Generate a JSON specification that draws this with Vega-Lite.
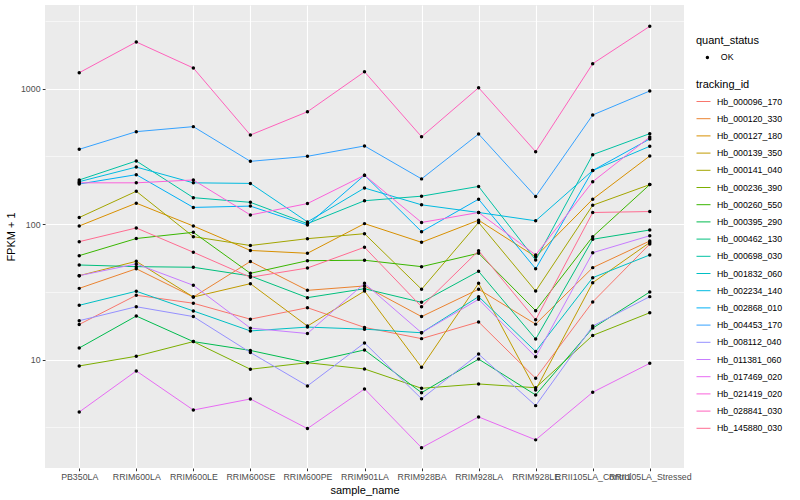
{
"$schema": "https://vega.github.io/schema/vega-lite/v6.json",
"width": 639, "height": 463,
"autosize": {"type": "none"},
"padding": {"left": 45, "top": 5, "right": 116, "bottom": 32},
"background": "white",
"config": {"view": {"fill": "#EBEBEB", "stroke": null}, "font": "Liberation Sans"},
"datasets": {"fpkm": [
{"tracking_id":"Hb_000096_170","sample_name":"PB350LA","fpkm":18.2,"quant_status":"OK"},
{"tracking_id":"Hb_000096_170","sample_name":"RRIM600LA","fpkm":29.9,"quant_status":"OK"},
{"tracking_id":"Hb_000096_170","sample_name":"RRIM600LE","fpkm":26.1,"quant_status":"OK"},
{"tracking_id":"Hb_000096_170","sample_name":"RRIM600SE","fpkm":19.9,"quant_status":"OK"},
{"tracking_id":"Hb_000096_170","sample_name":"RRIM600PE","fpkm":24.2,"quant_status":"OK"},
{"tracking_id":"Hb_000096_170","sample_name":"RRIM901LA","fpkm":17.3,"quant_status":"OK"},
{"tracking_id":"Hb_000096_170","sample_name":"RRIM928BA","fpkm":14.3,"quant_status":"OK"},
{"tracking_id":"Hb_000096_170","sample_name":"RRIM928LA","fpkm":19.0,"quant_status":"OK"},
{"tracking_id":"Hb_000096_170","sample_name":"RRIM928LE","fpkm":7.29,"quant_status":"OK"},
{"tracking_id":"Hb_000096_170","sample_name":"RRII105LA_Control","fpkm":26.7,"quant_status":"OK"},
{"tracking_id":"Hb_000096_170","sample_name":"RRII105LA_Stressed","fpkm":71.4,"quant_status":"OK"},
{"tracking_id":"Hb_000120_330","sample_name":"PB350LA","fpkm":33.6,"quant_status":"OK"},
{"tracking_id":"Hb_000120_330","sample_name":"RRIM600LA","fpkm":46.9,"quant_status":"OK"},
{"tracking_id":"Hb_000120_330","sample_name":"RRIM600LE","fpkm":29.0,"quant_status":"OK"},
{"tracking_id":"Hb_000120_330","sample_name":"RRIM600SE","fpkm":53.1,"quant_status":"OK"},
{"tracking_id":"Hb_000120_330","sample_name":"RRIM600PE","fpkm":32.5,"quant_status":"OK"},
{"tracking_id":"Hb_000120_330","sample_name":"RRIM901LA","fpkm":35.0,"quant_status":"OK"},
{"tracking_id":"Hb_000120_330","sample_name":"RRIM928BA","fpkm":20.8,"quant_status":"OK"},
{"tracking_id":"Hb_000120_330","sample_name":"RRIM928LA","fpkm":33.1,"quant_status":"OK"},
{"tracking_id":"Hb_000120_330","sample_name":"RRIM928LE","fpkm":18.3,"quant_status":"OK"},
{"tracking_id":"Hb_000120_330","sample_name":"RRII105LA_Control","fpkm":47.8,"quant_status":"OK"},
{"tracking_id":"Hb_000120_330","sample_name":"RRII105LA_Stressed","fpkm":75.2,"quant_status":"OK"},
{"tracking_id":"Hb_000127_180","sample_name":"PB350LA","fpkm":97.0,"quant_status":"OK"},
{"tracking_id":"Hb_000127_180","sample_name":"RRIM600LA","fpkm":143,"quant_status":"OK"},
{"tracking_id":"Hb_000127_180","sample_name":"RRIM600LE","fpkm":97.0,"quant_status":"OK"},
{"tracking_id":"Hb_000127_180","sample_name":"RRIM600SE","fpkm":64.0,"quant_status":"OK"},
{"tracking_id":"Hb_000127_180","sample_name":"RRIM600PE","fpkm":61.0,"quant_status":"OK"},
{"tracking_id":"Hb_000127_180","sample_name":"RRIM901LA","fpkm":101,"quant_status":"OK"},
{"tracking_id":"Hb_000127_180","sample_name":"RRIM928BA","fpkm":73.5,"quant_status":"OK"},
{"tracking_id":"Hb_000127_180","sample_name":"RRIM928LA","fpkm":107,"quant_status":"OK"},
{"tracking_id":"Hb_000127_180","sample_name":"RRIM928LE","fpkm":57.5,"quant_status":"OK"},
{"tracking_id":"Hb_000127_180","sample_name":"RRII105LA_Control","fpkm":153,"quant_status":"OK"},
{"tracking_id":"Hb_000127_180","sample_name":"RRII105LA_Stressed","fpkm":319,"quant_status":"OK"},
{"tracking_id":"Hb_000139_350","sample_name":"PB350LA","fpkm":41.7,"quant_status":"OK"},
{"tracking_id":"Hb_000139_350","sample_name":"RRIM600LA","fpkm":53.2,"quant_status":"OK"},
{"tracking_id":"Hb_000139_350","sample_name":"RRIM600LE","fpkm":29.0,"quant_status":"OK"},
{"tracking_id":"Hb_000139_350","sample_name":"RRIM600SE","fpkm":36.4,"quant_status":"OK"},
{"tracking_id":"Hb_000139_350","sample_name":"RRIM600PE","fpkm":17.7,"quant_status":"OK"},
{"tracking_id":"Hb_000139_350","sample_name":"RRIM901LA","fpkm":32.1,"quant_status":"OK"},
{"tracking_id":"Hb_000139_350","sample_name":"RRIM928BA","fpkm":8.79,"quant_status":"OK"},
{"tracking_id":"Hb_000139_350","sample_name":"RRIM928LA","fpkm":36.6,"quant_status":"OK"},
{"tracking_id":"Hb_000139_350","sample_name":"RRIM928LE","fpkm":5.98,"quant_status":"OK"},
{"tracking_id":"Hb_000139_350","sample_name":"RRII105LA_Control","fpkm":37.0,"quant_status":"OK"},
{"tracking_id":"Hb_000139_350","sample_name":"RRII105LA_Stressed","fpkm":73.3,"quant_status":"OK"},
{"tracking_id":"Hb_000141_040","sample_name":"PB350LA","fpkm":112,"quant_status":"OK"},
{"tracking_id":"Hb_000141_040","sample_name":"RRIM600LA","fpkm":175,"quant_status":"OK"},
{"tracking_id":"Hb_000141_040","sample_name":"RRIM600LE","fpkm":80.9,"quant_status":"OK"},
{"tracking_id":"Hb_000141_040","sample_name":"RRIM600SE","fpkm":69.6,"quant_status":"OK"},
{"tracking_id":"Hb_000141_040","sample_name":"RRIM600PE","fpkm":78.2,"quant_status":"OK"},
{"tracking_id":"Hb_000141_040","sample_name":"RRIM901LA","fpkm":85.1,"quant_status":"OK"},
{"tracking_id":"Hb_000141_040","sample_name":"RRIM928BA","fpkm":33.1,"quant_status":"OK"},
{"tracking_id":"Hb_000141_040","sample_name":"RRIM928LA","fpkm":103,"quant_status":"OK"},
{"tracking_id":"Hb_000141_040","sample_name":"RRIM928LE","fpkm":32.1,"quant_status":"OK"},
{"tracking_id":"Hb_000141_040","sample_name":"RRII105LA_Control","fpkm":138,"quant_status":"OK"},
{"tracking_id":"Hb_000141_040","sample_name":"RRII105LA_Stressed","fpkm":196,"quant_status":"OK"},
{"tracking_id":"Hb_000236_390","sample_name":"PB350LA","fpkm":8.99,"quant_status":"OK"},
{"tracking_id":"Hb_000236_390","sample_name":"RRIM600LA","fpkm":10.6,"quant_status":"OK"},
{"tracking_id":"Hb_000236_390","sample_name":"RRIM600LE","fpkm":13.6,"quant_status":"OK"},
{"tracking_id":"Hb_000236_390","sample_name":"RRIM600SE","fpkm":8.50,"quant_status":"OK"},
{"tracking_id":"Hb_000236_390","sample_name":"RRIM600PE","fpkm":9.50,"quant_status":"OK"},
{"tracking_id":"Hb_000236_390","sample_name":"RRIM901LA","fpkm":8.54,"quant_status":"OK"},
{"tracking_id":"Hb_000236_390","sample_name":"RRIM928BA","fpkm":6.15,"quant_status":"OK"},
{"tracking_id":"Hb_000236_390","sample_name":"RRIM928LA","fpkm":6.62,"quant_status":"OK"},
{"tracking_id":"Hb_000236_390","sample_name":"RRIM928LE","fpkm":6.21,"quant_status":"OK"},
{"tracking_id":"Hb_000236_390","sample_name":"RRII105LA_Control","fpkm":15.1,"quant_status":"OK"},
{"tracking_id":"Hb_000236_390","sample_name":"RRII105LA_Stressed","fpkm":22.2,"quant_status":"OK"},
{"tracking_id":"Hb_000260_550","sample_name":"PB350LA","fpkm":58.6,"quant_status":"OK"},
{"tracking_id":"Hb_000260_550","sample_name":"RRIM600LA","fpkm":78.4,"quant_status":"OK"},
{"tracking_id":"Hb_000260_550","sample_name":"RRIM600LE","fpkm":87.1,"quant_status":"OK"},
{"tracking_id":"Hb_000260_550","sample_name":"RRIM600SE","fpkm":43.4,"quant_status":"OK"},
{"tracking_id":"Hb_000260_550","sample_name":"RRIM600PE","fpkm":53.8,"quant_status":"OK"},
{"tracking_id":"Hb_000260_550","sample_name":"RRIM901LA","fpkm":54.2,"quant_status":"OK"},
{"tracking_id":"Hb_000260_550","sample_name":"RRIM928BA","fpkm":48.6,"quant_status":"OK"},
{"tracking_id":"Hb_000260_550","sample_name":"RRIM928LA","fpkm":61.0,"quant_status":"OK"},
{"tracking_id":"Hb_000260_550","sample_name":"RRIM928LE","fpkm":23.0,"quant_status":"OK"},
{"tracking_id":"Hb_000260_550","sample_name":"RRII105LA_Control","fpkm":80.9,"quant_status":"OK"},
{"tracking_id":"Hb_000260_550","sample_name":"RRII105LA_Stressed","fpkm":196,"quant_status":"OK"},
{"tracking_id":"Hb_000395_290","sample_name":"PB350LA","fpkm":12.2,"quant_status":"OK"},
{"tracking_id":"Hb_000395_290","sample_name":"RRIM600LA","fpkm":21.0,"quant_status":"OK"},
{"tracking_id":"Hb_000395_290","sample_name":"RRIM600LE","fpkm":13.6,"quant_status":"OK"},
{"tracking_id":"Hb_000395_290","sample_name":"RRIM600SE","fpkm":11.7,"quant_status":"OK"},
{"tracking_id":"Hb_000395_290","sample_name":"RRIM600PE","fpkm":9.50,"quant_status":"OK"},
{"tracking_id":"Hb_000395_290","sample_name":"RRIM901LA","fpkm":11.8,"quant_status":"OK"},
{"tracking_id":"Hb_000395_290","sample_name":"RRIM928BA","fpkm":5.71,"quant_status":"OK"},
{"tracking_id":"Hb_000395_290","sample_name":"RRIM928LA","fpkm":10.1,"quant_status":"OK"},
{"tracking_id":"Hb_000395_290","sample_name":"RRIM928LE","fpkm":5.49,"quant_status":"OK"},
{"tracking_id":"Hb_000395_290","sample_name":"RRII105LA_Control","fpkm":17.1,"quant_status":"OK"},
{"tracking_id":"Hb_000395_290","sample_name":"RRII105LA_Stressed","fpkm":31.6,"quant_status":"OK"},
{"tracking_id":"Hb_000462_130","sample_name":"PB350LA","fpkm":50.0,"quant_status":"OK"},
{"tracking_id":"Hb_000462_130","sample_name":"RRIM600LA","fpkm":48.6,"quant_status":"OK"},
{"tracking_id":"Hb_000462_130","sample_name":"RRIM600LE","fpkm":48.1,"quant_status":"OK"},
{"tracking_id":"Hb_000462_130","sample_name":"RRIM600SE","fpkm":41.5,"quant_status":"OK"},
{"tracking_id":"Hb_000462_130","sample_name":"RRIM600PE","fpkm":28.7,"quant_status":"OK"},
{"tracking_id":"Hb_000462_130","sample_name":"RRIM901LA","fpkm":33.4,"quant_status":"OK"},
{"tracking_id":"Hb_000462_130","sample_name":"RRIM928BA","fpkm":26.5,"quant_status":"OK"},
{"tracking_id":"Hb_000462_130","sample_name":"RRIM928LA","fpkm":44.9,"quant_status":"OK"},
{"tracking_id":"Hb_000462_130","sample_name":"RRIM928LE","fpkm":14.2,"quant_status":"OK"},
{"tracking_id":"Hb_000462_130","sample_name":"RRII105LA_Control","fpkm":77.4,"quant_status":"OK"},
{"tracking_id":"Hb_000462_130","sample_name":"RRII105LA_Stressed","fpkm":90.6,"quant_status":"OK"},
{"tracking_id":"Hb_000698_030","sample_name":"PB350LA","fpkm":212,"quant_status":"OK"},
{"tracking_id":"Hb_000698_030","sample_name":"RRIM600LA","fpkm":293,"quant_status":"OK"},
{"tracking_id":"Hb_000698_030","sample_name":"RRIM600LE","fpkm":157,"quant_status":"OK"},
{"tracking_id":"Hb_000698_030","sample_name":"RRIM600SE","fpkm":145,"quant_status":"OK"},
{"tracking_id":"Hb_000698_030","sample_name":"RRIM600PE","fpkm":101,"quant_status":"OK"},
{"tracking_id":"Hb_000698_030","sample_name":"RRIM901LA","fpkm":149,"quant_status":"OK"},
{"tracking_id":"Hb_000698_030","sample_name":"RRIM928BA","fpkm":161,"quant_status":"OK"},
{"tracking_id":"Hb_000698_030","sample_name":"RRIM928LA","fpkm":190,"quant_status":"OK"},
{"tracking_id":"Hb_000698_030","sample_name":"RRIM928LE","fpkm":54.4,"quant_status":"OK"},
{"tracking_id":"Hb_000698_030","sample_name":"RRII105LA_Control","fpkm":326,"quant_status":"OK"},
{"tracking_id":"Hb_000698_030","sample_name":"RRII105LA_Stressed","fpkm":466,"quant_status":"OK"},
{"tracking_id":"Hb_001832_060","sample_name":"PB350LA","fpkm":25.2,"quant_status":"OK"},
{"tracking_id":"Hb_001832_060","sample_name":"RRIM600LA","fpkm":32.0,"quant_status":"OK"},
{"tracking_id":"Hb_001832_060","sample_name":"RRIM600LE","fpkm":22.9,"quant_status":"OK"},
{"tracking_id":"Hb_001832_060","sample_name":"RRIM600SE","fpkm":16.3,"quant_status":"OK"},
{"tracking_id":"Hb_001832_060","sample_name":"RRIM600PE","fpkm":17.4,"quant_status":"OK"},
{"tracking_id":"Hb_001832_060","sample_name":"RRIM901LA","fpkm":16.8,"quant_status":"OK"},
{"tracking_id":"Hb_001832_060","sample_name":"RRIM928BA","fpkm":15.8,"quant_status":"OK"},
{"tracking_id":"Hb_001832_060","sample_name":"RRIM928LA","fpkm":29.2,"quant_status":"OK"},
{"tracking_id":"Hb_001832_060","sample_name":"RRIM928LE","fpkm":11.5,"quant_status":"OK"},
{"tracking_id":"Hb_001832_060","sample_name":"RRII105LA_Control","fpkm":40.3,"quant_status":"OK"},
{"tracking_id":"Hb_001832_060","sample_name":"RRII105LA_Stressed","fpkm":59.3,"quant_status":"OK"},
{"tracking_id":"Hb_002234_140","sample_name":"PB350LA","fpkm":206,"quant_status":"OK"},
{"tracking_id":"Hb_002234_140","sample_name":"RRIM600LA","fpkm":264,"quant_status":"OK"},
{"tracking_id":"Hb_002234_140","sample_name":"RRIM600LE","fpkm":202,"quant_status":"OK"},
{"tracking_id":"Hb_002234_140","sample_name":"RRIM600SE","fpkm":200,"quant_status":"OK"},
{"tracking_id":"Hb_002234_140","sample_name":"RRIM600PE","fpkm":104,"quant_status":"OK"},
{"tracking_id":"Hb_002234_140","sample_name":"RRIM901LA","fpkm":185,"quant_status":"OK"},
{"tracking_id":"Hb_002234_140","sample_name":"RRIM928BA","fpkm":139,"quant_status":"OK"},
{"tracking_id":"Hb_002234_140","sample_name":"RRIM928LA","fpkm":122,"quant_status":"OK"},
{"tracking_id":"Hb_002234_140","sample_name":"RRIM928LE","fpkm":106,"quant_status":"OK"},
{"tracking_id":"Hb_002234_140","sample_name":"RRII105LA_Control","fpkm":249,"quant_status":"OK"},
{"tracking_id":"Hb_002234_140","sample_name":"RRII105LA_Stressed","fpkm":376,"quant_status":"OK"},
{"tracking_id":"Hb_002868_010","sample_name":"PB350LA","fpkm":198,"quant_status":"OK"},
{"tracking_id":"Hb_002868_010","sample_name":"RRIM600LA","fpkm":232,"quant_status":"OK"},
{"tracking_id":"Hb_002868_010","sample_name":"RRIM600LE","fpkm":133,"quant_status":"OK"},
{"tracking_id":"Hb_002868_010","sample_name":"RRIM600SE","fpkm":136,"quant_status":"OK"},
{"tracking_id":"Hb_002868_010","sample_name":"RRIM600PE","fpkm":98.6,"quant_status":"OK"},
{"tracking_id":"Hb_002868_010","sample_name":"RRIM901LA","fpkm":230,"quant_status":"OK"},
{"tracking_id":"Hb_002868_010","sample_name":"RRIM928BA","fpkm":88.1,"quant_status":"OK"},
{"tracking_id":"Hb_002868_010","sample_name":"RRIM928LA","fpkm":153,"quant_status":"OK"},
{"tracking_id":"Hb_002868_010","sample_name":"RRIM928LE","fpkm":46.9,"quant_status":"OK"},
{"tracking_id":"Hb_002868_010","sample_name":"RRII105LA_Control","fpkm":249,"quant_status":"OK"},
{"tracking_id":"Hb_002868_010","sample_name":"RRII105LA_Stressed","fpkm":426,"quant_status":"OK"},
{"tracking_id":"Hb_004453_170","sample_name":"PB350LA","fpkm":357,"quant_status":"OK"},
{"tracking_id":"Hb_004453_170","sample_name":"RRIM600LA","fpkm":482,"quant_status":"OK"},
{"tracking_id":"Hb_004453_170","sample_name":"RRIM600LE","fpkm":525,"quant_status":"OK"},
{"tracking_id":"Hb_004453_170","sample_name":"RRIM600SE","fpkm":291,"quant_status":"OK"},
{"tracking_id":"Hb_004453_170","sample_name":"RRIM600PE","fpkm":317,"quant_status":"OK"},
{"tracking_id":"Hb_004453_170","sample_name":"RRIM901LA","fpkm":378,"quant_status":"OK"},
{"tracking_id":"Hb_004453_170","sample_name":"RRIM928BA","fpkm":216,"quant_status":"OK"},
{"tracking_id":"Hb_004453_170","sample_name":"RRIM928LA","fpkm":463,"quant_status":"OK"},
{"tracking_id":"Hb_004453_170","sample_name":"RRIM928LE","fpkm":160,"quant_status":"OK"},
{"tracking_id":"Hb_004453_170","sample_name":"RRII105LA_Control","fpkm":640,"quant_status":"OK"},
{"tracking_id":"Hb_004453_170","sample_name":"RRII105LA_Stressed","fpkm":962,"quant_status":"OK"},
{"tracking_id":"Hb_008112_040","sample_name":"PB350LA","fpkm":19.4,"quant_status":"OK"},
{"tracking_id":"Hb_008112_040","sample_name":"RRIM600LA","fpkm":24.6,"quant_status":"OK"},
{"tracking_id":"Hb_008112_040","sample_name":"RRIM600LE","fpkm":20.8,"quant_status":"OK"},
{"tracking_id":"Hb_008112_040","sample_name":"RRIM600SE","fpkm":11.3,"quant_status":"OK"},
{"tracking_id":"Hb_008112_040","sample_name":"RRIM600PE","fpkm":6.40,"quant_status":"OK"},
{"tracking_id":"Hb_008112_040","sample_name":"RRIM901LA","fpkm":13.3,"quant_status":"OK"},
{"tracking_id":"Hb_008112_040","sample_name":"RRIM928BA","fpkm":5.15,"quant_status":"OK"},
{"tracking_id":"Hb_008112_040","sample_name":"RRIM928LA","fpkm":11.0,"quant_status":"OK"},
{"tracking_id":"Hb_008112_040","sample_name":"RRIM928LE","fpkm":4.58,"quant_status":"OK"},
{"tracking_id":"Hb_008112_040","sample_name":"RRII105LA_Control","fpkm":17.7,"quant_status":"OK"},
{"tracking_id":"Hb_008112_040","sample_name":"RRII105LA_Stressed","fpkm":29.2,"quant_status":"OK"},
{"tracking_id":"Hb_011381_060","sample_name":"PB350LA","fpkm":41.7,"quant_status":"OK"},
{"tracking_id":"Hb_011381_060","sample_name":"RRIM600LA","fpkm":50.9,"quant_status":"OK"},
{"tracking_id":"Hb_011381_060","sample_name":"RRIM600LE","fpkm":35.4,"quant_status":"OK"},
{"tracking_id":"Hb_011381_060","sample_name":"RRIM600SE","fpkm":17.1,"quant_status":"OK"},
{"tracking_id":"Hb_011381_060","sample_name":"RRIM600PE","fpkm":15.6,"quant_status":"OK"},
{"tracking_id":"Hb_011381_060","sample_name":"RRIM901LA","fpkm":36.6,"quant_status":"OK"},
{"tracking_id":"Hb_011381_060","sample_name":"RRIM928BA","fpkm":15.8,"quant_status":"OK"},
{"tracking_id":"Hb_011381_060","sample_name":"RRIM928LA","fpkm":27.9,"quant_status":"OK"},
{"tracking_id":"Hb_011381_060","sample_name":"RRIM928LE","fpkm":10.5,"quant_status":"OK"},
{"tracking_id":"Hb_011381_060","sample_name":"RRII105LA_Control","fpkm":61.6,"quant_status":"OK"},
{"tracking_id":"Hb_011381_060","sample_name":"RRII105LA_Stressed","fpkm":82.2,"quant_status":"OK"},
{"tracking_id":"Hb_017469_020","sample_name":"PB350LA","fpkm":4.11,"quant_status":"OK"},
{"tracking_id":"Hb_017469_020","sample_name":"RRIM600LA","fpkm":8.26,"quant_status":"OK"},
{"tracking_id":"Hb_017469_020","sample_name":"RRIM600LE","fpkm":4.25,"quant_status":"OK"},
{"tracking_id":"Hb_017469_020","sample_name":"RRIM600SE","fpkm":5.13,"quant_status":"OK"},
{"tracking_id":"Hb_017469_020","sample_name":"RRIM600PE","fpkm":3.10,"quant_status":"OK"},
{"tracking_id":"Hb_017469_020","sample_name":"RRIM901LA","fpkm":6.08,"quant_status":"OK"},
{"tracking_id":"Hb_017469_020","sample_name":"RRIM928BA","fpkm":2.24,"quant_status":"OK"},
{"tracking_id":"Hb_017469_020","sample_name":"RRIM928LA","fpkm":3.78,"quant_status":"OK"},
{"tracking_id":"Hb_017469_020","sample_name":"RRIM928LE","fpkm":2.56,"quant_status":"OK"},
{"tracking_id":"Hb_017469_020","sample_name":"RRII105LA_Control","fpkm":5.75,"quant_status":"OK"},
{"tracking_id":"Hb_017469_020","sample_name":"RRII105LA_Stressed","fpkm":9.40,"quant_status":"OK"},
{"tracking_id":"Hb_021419_020","sample_name":"PB350LA","fpkm":202,"quant_status":"OK"},
{"tracking_id":"Hb_021419_020","sample_name":"RRIM600LA","fpkm":202,"quant_status":"OK"},
{"tracking_id":"Hb_021419_020","sample_name":"RRIM600LE","fpkm":212,"quant_status":"OK"},
{"tracking_id":"Hb_021419_020","sample_name":"RRIM600SE","fpkm":117,"quant_status":"OK"},
{"tracking_id":"Hb_021419_020","sample_name":"RRIM600PE","fpkm":142,"quant_status":"OK"},
{"tracking_id":"Hb_021419_020","sample_name":"RRIM901LA","fpkm":230,"quant_status":"OK"},
{"tracking_id":"Hb_021419_020","sample_name":"RRIM928BA","fpkm":103,"quant_status":"OK"},
{"tracking_id":"Hb_021419_020","sample_name":"RRIM928LA","fpkm":122,"quant_status":"OK"},
{"tracking_id":"Hb_021419_020","sample_name":"RRIM928LE","fpkm":59.3,"quant_status":"OK"},
{"tracking_id":"Hb_021419_020","sample_name":"RRII105LA_Control","fpkm":206,"quant_status":"OK"},
{"tracking_id":"Hb_021419_020","sample_name":"RRII105LA_Stressed","fpkm":440,"quant_status":"OK"},
{"tracking_id":"Hb_028841_030","sample_name":"PB350LA","fpkm":1312,"quant_status":"OK"},
{"tracking_id":"Hb_028841_030","sample_name":"RRIM600LA","fpkm":2213,"quant_status":"OK"},
{"tracking_id":"Hb_028841_030","sample_name":"RRIM600LE","fpkm":1422,"quant_status":"OK"},
{"tracking_id":"Hb_028841_030","sample_name":"RRIM600SE","fpkm":455,"quant_status":"OK"},
{"tracking_id":"Hb_028841_030","sample_name":"RRIM600PE","fpkm":676,"quant_status":"OK"},
{"tracking_id":"Hb_028841_030","sample_name":"RRIM901LA","fpkm":1334,"quant_status":"OK"},
{"tracking_id":"Hb_028841_030","sample_name":"RRIM928BA","fpkm":442,"quant_status":"OK"},
{"tracking_id":"Hb_028841_030","sample_name":"RRIM928LA","fpkm":1017,"quant_status":"OK"},
{"tracking_id":"Hb_028841_030","sample_name":"RRIM928LE","fpkm":343,"quant_status":"OK"},
{"tracking_id":"Hb_028841_030","sample_name":"RRII105LA_Control","fpkm":1530,"quant_status":"OK"},
{"tracking_id":"Hb_028841_030","sample_name":"RRII105LA_Stressed","fpkm":2888,"quant_status":"OK"},
{"tracking_id":"Hb_145880_030","sample_name":"PB350LA","fpkm":74.3,"quant_status":"OK"},
{"tracking_id":"Hb_145880_030","sample_name":"RRIM600LA","fpkm":93.8,"quant_status":"OK"},
{"tracking_id":"Hb_145880_030","sample_name":"RRIM600LE","fpkm":62.1,"quant_status":"OK"},
{"tracking_id":"Hb_145880_030","sample_name":"RRIM600SE","fpkm":40.6,"quant_status":"OK"},
{"tracking_id":"Hb_145880_030","sample_name":"RRIM600PE","fpkm":47.5,"quant_status":"OK"},
{"tracking_id":"Hb_145880_030","sample_name":"RRIM901LA","fpkm":67.6,"quant_status":"OK"},
{"tracking_id":"Hb_145880_030","sample_name":"RRIM928BA","fpkm":24.6,"quant_status":"OK"},
{"tracking_id":"Hb_145880_030","sample_name":"RRIM928LA","fpkm":63.7,"quant_status":"OK"},
{"tracking_id":"Hb_145880_030","sample_name":"RRIM928LE","fpkm":19.7,"quant_status":"OK"},
{"tracking_id":"Hb_145880_030","sample_name":"RRII105LA_Control","fpkm":122,"quant_status":"OK"},
{"tracking_id":"Hb_145880_030","sample_name":"RRII105LA_Stressed","fpkm":124,"quant_status":"OK"}
]},
"data": {"name": "fpkm"},
"encoding": {
  "x": {"field": "sample_name", "type": "nominal",
    "sort": ["PB350LA","RRIM600LA","RRIM600LE","RRIM600SE","RRIM600PE","RRIM901LA","RRIM928BA","RRIM928LA","RRIM928LE","RRII105LA_Control","RRII105LA_Stressed"],
    "scale": {"type": "point", "padding": 0.6},
    "axis": {"title": "sample_name", "titleFontSize": 11, "titleFontWeight": "normal", "titleColor": "black", "titlePadding": 3,
      "labelFontSize": 8.8, "labelColor": "#4D4D4D", "labelAngle": 0, "labelOverlap": false, "labelPadding": 2.2,
      "tickColor": "#333333", "tickSize": 2.75, "domain": false, "grid": true, "gridColor": "white", "gridWidth": 1.1}},
  "y": {"field": "fpkm", "type": "quantitative",
    "scale": {"type": "log", "domain": [1.587, 4148], "nice": false},
    "axis": {"title": "FPKM + 1", "titleFontSize": 11, "titleFontWeight": "normal", "titleColor": "black", "titlePadding": 4,
      "values": [3.162, 10, 31.62, 100, 316.2, 1000, 3162], "format": "d",
      "labelExpr": "datum.value == 10 || datum.value == 100 || datum.value == 1000 ? datum.label : ''",
      "labelFontSize": 8.8, "labelColor": "#4D4D4D", "labelPadding": 2.2,
      "tickColor": "#333333", "tickSize": 2.75,
      "tickOpacity": {"condition": {"test": "datum.value == 10 || datum.value == 100 || datum.value == 1000", "value": 1}, "value": 0},
      "domain": false, "grid": true, "gridColor": "white",
      "gridWidth": {"condition": {"test": "datum.value == 10 || datum.value == 100 || datum.value == 1000", "value": 1.1}, "value": 0.55}}}
},
"layer": [
  {"mark": {"type": "line", "strokeWidth": 1},
   "encoding": {
     "stroke": {"field": "tracking_id", "type": "nominal",
       "scale": {"range": ["#F8766D","#EA8331","#D89000","#C09B00","#A3A500","#7CAE00","#39B600","#00BB4E","#00BF7D","#00C1A3","#00BFC4","#00BAE0","#00B0F6","#35A2FF","#9590FF","#C77CFF","#E76BF3","#FA62DB","#FF62BC","#FF6C91"]},
       "legend": {"title": "tracking_id", "orient": "none", "legendX": 651, "legendY": 74,
         "titleFontSize": 11, "titleFontWeight": "normal", "titleColor": "black", "titlePadding": 4,
         "labelFontSize": 8.8, "labelColor": "black", "symbolType": "stroke", "symbolSize": 196, "symbolStrokeWidth": 1,
         "rowPadding": 4.2, "labelOffset": 6}}}},
  {"mark": {"type": "point", "filled": true, "size": 12, "opacity": 1, "shape": "circle"},
   "encoding": {
     "fill": {"field": "quant_status", "type": "nominal", "scale": {"range": ["black"]},
       "legend": {"title": "quant_status", "orient": "none", "legendX": 651, "legendY": 30,
         "titleFontSize": 11, "titleFontWeight": "normal", "titleColor": "black", "titlePadding": 7,
         "labelFontSize": 8.8, "labelColor": "black", "symbolType": "circle", "symbolSize": 12, "symbolOffset": 7, "labelOffset": 9}}}}
]
}
